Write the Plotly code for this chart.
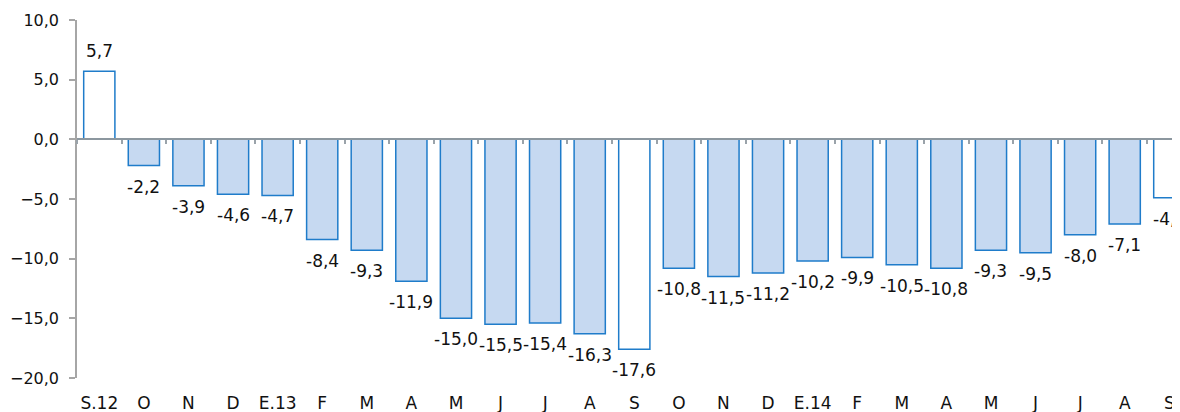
import plotly.graph_objects as go

months = ["S.12", "O", "N", "D", "E.13", "F", "M", "A", "M", "J", "J", "A",
          "S", "O", "N", "D", "E.14", "F", "M", "A", "M", "J", "J", "A", "S"]
values = [5.7, -2.2, -3.9, -4.6, -4.7, -8.4, -9.3, -11.9, -15.0, -15.5, -15.4, -16.3,
          -17.6, -10.8, -11.5, -11.2, -10.2, -9.9, -10.5, -10.8, -9.3, -9.5, -8.0, -7.1, -4.9]
# september bars are drawn hollow
hollow = [m == "S" or m == "S.12" for m in months]

fill = ["white" if h else "#c6d9f1" for h in hollow]
pos = list(range(len(months)))
font = dict(family="DejaVu Sans", size=17, color="#111111")

fig = go.Figure()
fig.add_trace(go.Bar(
    x=pos, y=values,
    marker=dict(color=fill, line=dict(color="#1f7cca", width=1.5)),
    width=0.7,
    hoverinfo="skip",
))

# value labels just beyond the bar ends
for i, v in enumerate(values):
    fig.add_annotation(
        x=i, y=v, text=f"{v:.1f}".replace(".", ","),
        showarrow=False, yanchor="middle",
        yshift=20 if v >= 0 else -21,
        font=font,
    )

# page body adds an 8px offset, so the figure is a bit smaller than the window
fig.update_layout(
    width=1172, height=404,
    margin=dict(l=69, r=0, t=12, b=34),
    paper_bgcolor="white", plot_bgcolor="white",
    showlegend=False,
    separators=", ",
    xaxis=dict(
        range=[-0.5, 24.24], automargin=False,
        tickmode="array", tickvals=pos, ticktext=months,
        ticks="", showline=False, showgrid=False, zeroline=False,
        ticklabelstandoff=13, tickfont=font,
    ),
    xaxis2=dict(
        overlaying="x", anchor="free", position=2 / 3,
        range=[-0.5, 24.24], tick0=0.5, dtick=1, automargin=False,
        showticklabels=False, ticks="outside", ticklen=4, tickwidth=1.5,
        tickcolor="#9aa3aa", showline=True, linecolor="#8c979f", linewidth=2,
        showgrid=False, zeroline=False,
    ),
    yaxis=dict(
        range=[-20, 10], dtick=5, tickformat=".1f", automargin=False,
        showgrid=False, zeroline=False,
        showline=True, linecolor="#a6a6a6", linewidth=1.5,
        ticks="outside", ticklen=6, tickcolor="#a6a6a6", tickwidth=1.5,
        ticklabelstandoff=7, tickfont=dict(font, size=16),
    ),
)
# empty trace to make the zero axis render
fig.add_trace(go.Scatter(x=[], y=[], xaxis="x2", showlegend=False))

fig.write_html("out.html")
